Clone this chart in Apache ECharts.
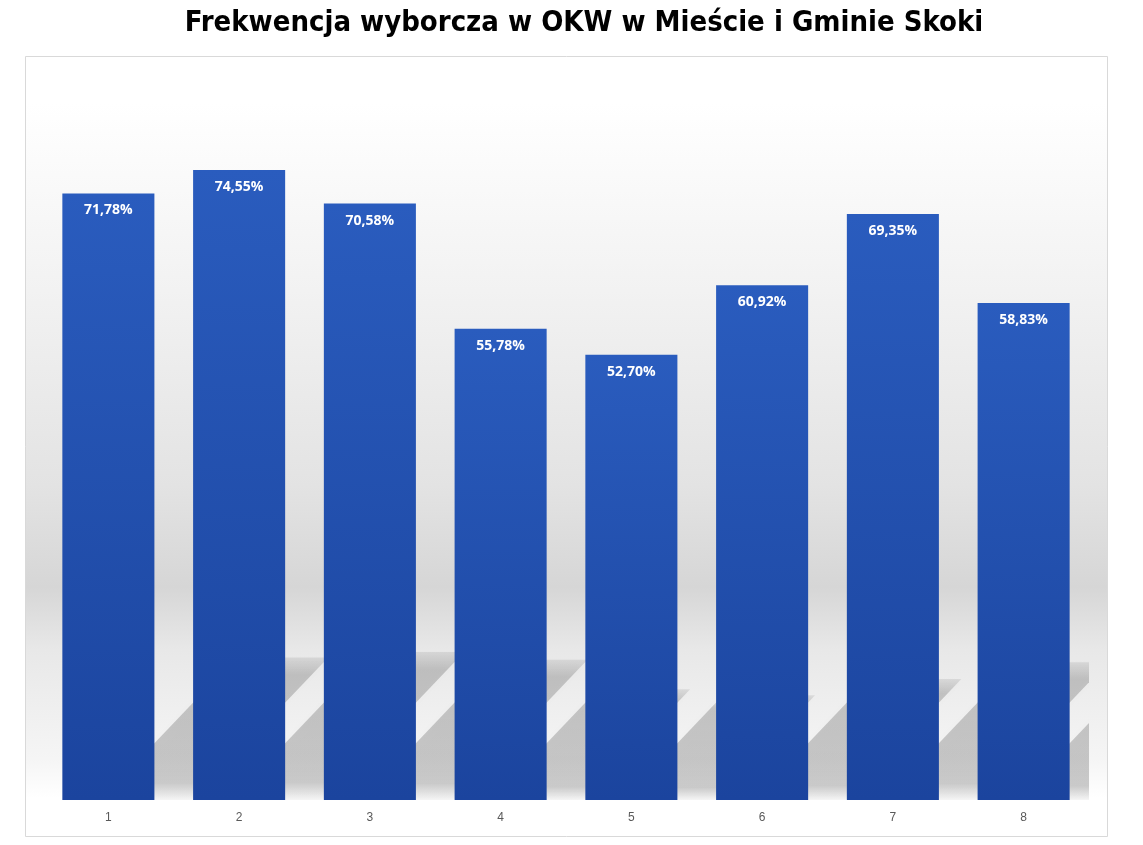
<!DOCTYPE html>
<html>
<head>
<meta charset="utf-8">
<script src="https://cdn.jsdelivr.net/npm/echarts@6/dist/echarts.min.js"></script>
<style>
html,body{margin:0;padding:0;background:#fff;}
#c{width:1143px;height:845px;}
</style>
</head>
<body>
<div id="c"></div>
<script>
const titleText = 'Frekwencja wyborcza w OKW w Mieście i Gminie Skoki';
const categories = ['1', '2', '3', '4', '5', '6', '7', '8'];
const turnout = [71.78, 74.55, 70.58, 55.78, 52.70, 60.92, 69.35, 58.83];

const chart = echarts.init(document.getElementById('c'));
const BAR_FRAC = 0.704;

const option = {
  animation: false,
  backgroundColor: '#ffffff',
  title: {
    text: titleText,
    left: 579,
    textAlign: 'center',
    top: 4,
    textStyle: {
      fontFamily: '"DejaVu Sans Condensed", "Liberation Sans", sans-serif',
      fontWeight: 'bold',
      fontSize: 29,
      color: '#000000'
    }
  },
  graphic: [{
    type: 'rect',
    z: -10,
    silent: true,
    shape: { x: 25.5, y: 56.5, width: 1082, height: 780 },
    style: {
      stroke: '#d9d9d9',
      lineWidth: 1,
      fill: {
        type: 'linear', x: 0, y: 0, x2: 0, y2: 1,
        colorStops: [
          { offset: 0, color: '#ffffff' },
          { offset: 0.06, color: '#ffffff' },
          { offset: 0.30, color: '#f2f2f2' },
          { offset: 0.55, color: '#e3e3e3' },
          { offset: 0.68, color: '#d6d6d6' },
          { offset: 0.76, color: '#e8e8e8' },
          { offset: 0.90, color: '#f5f5f5' },
          { offset: 0.95, color: '#ffffff' },
          { offset: 1, color: '#ffffff' }
        ]
      }
    }
  }],
  grid: { left: 43, right: 54, top: 124, bottom: 45 },
  xAxis: {
    type: 'category',
    data: categories,
    axisLine: { show: false },
    axisTick: { show: false },
    axisLabel: {
      color: '#595959',
      fontSize: 12,
      margin: 12,
      fontFamily: '"Liberation Sans", Arial, sans-serif'
    }
  },
  yAxis: {
    type: 'value',
    min: 0,
    max: 80,
    show: false,
    splitLine: { show: false }
  },
  series: [
    {
      type: 'custom',
      z: 1,
      silent: true,
      clip: true,
      data: turnout.map((v, i) => [i, v]),
      renderItem: function (params, api) {
        const base = api.coord([api.value(0), 0]);
        const top = api.coord([api.value(0), api.value(1)]);
        const h = base[1] - top[1];
        const w = api.size([1, 0])[0] * BAR_FRAC;
        const L = base[0] - w / 2 + 38;
        const R = L + w;
        const hs = 0.235 * h;
        const dx = hs / 1.05;
        const y0 = base[1];
        const y1 = base[1] - hs;
        return {
          type: 'polygon',
          shape: { points: [[L, y0], [R, y0], [R + dx, y1], [L + dx, y1]] },
          style: {
            fill: {
              type: 'linear', x: 0, y: 0, x2: 0, y2: 1,
              colorStops: [
                { offset: 0, color: 'rgba(0,0,0,0.08)' },
                { offset: 0.12, color: 'rgba(0,0,0,0.18)' },
                { offset: 0.88, color: 'rgba(0,0,0,0.19)' },
                { offset: 1, color: 'rgba(0,0,0,0.04)' }
              ]
            },
            shadowBlur: 6,
            shadowColor: 'rgba(0,0,0,0.08)'
          }
        };
      }
    },
    {
      type: 'bar',
      z: 3,
      data: turnout,
      barCategoryGap: '29.6%',
      itemStyle: {
        color: {
          type: 'linear', x: 0, y: 0, x2: 0, y2: 1,
          colorStops: [
            { offset: 0, color: '#2a5cbe' },
            { offset: 1, color: '#1b449e' }
          ]
        }
      },
      label: {
        show: true,
        position: 'insideTop',
        distance: 10,
        color: '#ffffff',
        fontWeight: 'bold',
        fontSize: 14,
        fontFamily: '"Open Sans", "Liberation Sans", sans-serif',
        formatter: p => p.value.toFixed(2).replace('.', ',') + '%'
      }
    }
  ]
};
chart.setOption(option);
</script>
</body>
</html>
